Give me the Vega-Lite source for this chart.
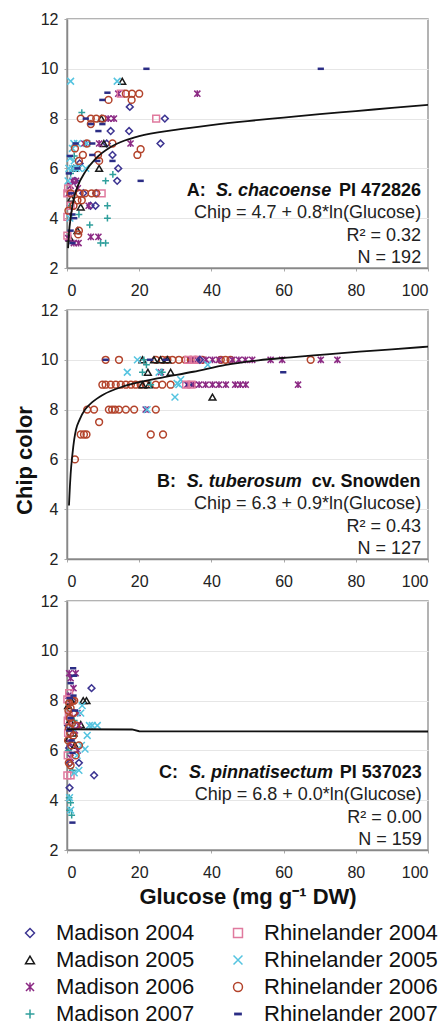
{
  "$schema": "https://vega.github.io/schema/vega-lite/v6.json",
  "background": "white",
  "padding": {"left": 12, "top": 10, "right": 0, "bottom": 0},
  "config": {
    "font": "Liberation Sans",
    "view": {"stroke": "#9a9a9a", "strokeWidth": 1.5},
    "axis": {"labelFont": "Liberation Sans", "labelFontSize": 16, "labelColor": "#222", "domainColor": "#888", "domainWidth": 1.5, "tickColor": "#aaa", "tickSize": 3, "gridColor": "#e6e6e6", "titleFont": "Liberation Sans", "titleFontSize": 22, "titleFontWeight": "bold", "titleColor": "#111"},
    "legend": {"labelFont": "Liberation Sans", "labelFontSize": 22, "labelColor": "#111", "labelLimit": 300, "symbolSize": 80, "symbolStrokeWidth": 1.5, "labelOffset": 15, "columnPadding": 32, "rowPadding": 5}
  },
  "datasets": {
    "ptsA": [
      {"series":"Madison 2004","glucose":27.1,"chip":8},{"series":"Madison 2004","glucose":17.4,"chip":8.47},{"series":"Madison 2004","glucose":17.2,"chip":7.5},{"series":"Madison 2004","glucose":12.1,"chip":7.5},{"series":"Madison 2004","glucose":25.9,"chip":7},{"series":"Madison 2004","glucose":12.6,"chip":6.54},{"series":"Madison 2004","glucose":14.2,"chip":6},{"series":"Madison 2004","glucose":13.9,"chip":5.5},{"series":"Madison 2004","glucose":8.1,"chip":5},{"series":"Madison 2004","glucose":7.9,"chip":4.5},{"series":"Madison 2004","glucose":6.5,"chip":4.5},{"series":"Madison 2004","glucose":3.5,"chip":6.2},{"series":"Madison 2004","glucose":2.2,"chip":5.5},{"series":"Madison 2004","glucose":11,"chip":7},{"series":"Madison 2004","glucose":4.5,"chip":5},
      {"series":"Madison 2005","glucose":15.3,"chip":9.5},{"series":"Madison 2005","glucose":10.2,"chip":7},{"series":"Madison 2005","glucose":8.9,"chip":6},{"series":"Madison 2005","glucose":3.8,"chip":4.45},{"series":"Madison 2005","glucose":2.9,"chip":3.5},{"series":"Madison 2005","glucose":1.9,"chip":6},{"series":"Madison 2005","glucose":1.2,"chip":4.8},{"series":"Madison 2005","glucose":9.5,"chip":8},{"series":"Madison 2005","glucose":0.8,"chip":3.2},
      {"series":"Madison 2006","glucose":36.1,"chip":9},{"series":"Madison 2006","glucose":14.2,"chip":9},{"series":"Madison 2006","glucose":13,"chip":8},{"series":"Madison 2006","glucose":11.4,"chip":8},{"series":"Madison 2006","glucose":8.9,"chip":7},{"series":"Madison 2006","glucose":17.6,"chip":7},{"series":"Madison 2006","glucose":6.6,"chip":3.25},{"series":"Madison 2006","glucose":8.7,"chip":3.25},{"series":"Madison 2006","glucose":1.9,"chip":3},{"series":"Madison 2006","glucose":0.3,"chip":3.2},{"series":"Madison 2006","glucose":1,"chip":5.3},{"series":"Madison 2006","glucose":2.5,"chip":5.5},{"series":"Madison 2006","glucose":3,"chip":5.2},{"series":"Madison 2006","glucose":1.5,"chip":5.5},{"series":"Madison 2006","glucose":4.8,"chip":7},{"series":"Madison 2006","glucose":6,"chip":4.5},{"series":"Madison 2006","glucose":0.5,"chip":5},{"series":"Madison 2006","glucose":3.2,"chip":3},
      {"series":"Madison 2007","glucose":4.1,"chip":8.24},{"series":"Madison 2007","glucose":12.7,"chip":5.76},{"series":"Madison 2007","glucose":10.7,"chip":5.5},{"series":"Madison 2007","glucose":11.2,"chip":4.5},{"series":"Madison 2007","glucose":11.2,"chip":4},{"series":"Madison 2007","glucose":6.3,"chip":3.73},{"series":"Madison 2007","glucose":9.3,"chip":3},{"series":"Madison 2007","glucose":10.7,"chip":3},{"series":"Madison 2007","glucose":1,"chip":5.8},{"series":"Madison 2007","glucose":3.3,"chip":4.15},{"series":"Madison 2007","glucose":2,"chip":6.5},{"series":"Madison 2007","glucose":0.7,"chip":4.5},
      {"series":"Rhinelander 2004","glucose":24.7,"chip":8},{"series":"Rhinelander 2004","glucose":9.6,"chip":5},{"series":"Rhinelander 2004","glucose":0.1,"chip":5},{"series":"Rhinelander 2004","glucose":0.1,"chip":4.05},{"series":"Rhinelander 2004","glucose":0.1,"chip":3.3},{"series":"Rhinelander 2004","glucose":14.9,"chip":9},{"series":"Rhinelander 2004","glucose":0.3,"chip":5.2},{"series":"Rhinelander 2004","glucose":1,"chip":4.5},
      {"series":"Rhinelander 2005","glucose":1,"chip":9.5},{"series":"Rhinelander 2005","glucose":13.9,"chip":9.5},{"series":"Rhinelander 2005","glucose":1.9,"chip":7},{"series":"Rhinelander 2005","glucose":2.9,"chip":7},{"series":"Rhinelander 2005","glucose":0.5,"chip":6},{"series":"Rhinelander 2005","glucose":1.5,"chip":6},{"series":"Rhinelander 2005","glucose":2.5,"chip":6},{"series":"Rhinelander 2005","glucose":3.3,"chip":6},{"series":"Rhinelander 2005","glucose":5.2,"chip":6},{"series":"Rhinelander 2005","glucose":0.8,"chip":6.4},{"series":"Rhinelander 2005","glucose":1.5,"chip":6.8},{"series":"Rhinelander 2005","glucose":0.3,"chip":5.5},{"series":"Rhinelander 2005","glucose":2,"chip":6.3},{"series":"Rhinelander 2005","glucose":0.8,"chip":4},{"series":"Rhinelander 2005","glucose":5.5,"chip":7},
      {"series":"Rhinelander 2006","glucose":11.5,"chip":8.75},{"series":"Rhinelander 2006","glucose":16.3,"chip":9},{"series":"Rhinelander 2006","glucose":18,"chip":9},{"series":"Rhinelander 2006","glucose":20,"chip":9},{"series":"Rhinelander 2006","glucose":17.9,"chip":8.75},{"series":"Rhinelander 2006","glucose":3.8,"chip":8},{"series":"Rhinelander 2006","glucose":6.6,"chip":8},{"series":"Rhinelander 2006","glucose":8.1,"chip":8},{"series":"Rhinelander 2006","glucose":9.8,"chip":8},{"series":"Rhinelander 2006","glucose":6.6,"chip":7.78},{"series":"Rhinelander 2006","glucose":5.5,"chip":7},{"series":"Rhinelander 2006","glucose":12.6,"chip":7},{"series":"Rhinelander 2006","glucose":20.4,"chip":6.77},{"series":"Rhinelander 2006","glucose":19.5,"chip":6.54},{"series":"Rhinelander 2006","glucose":4.4,"chip":6.54},{"series":"Rhinelander 2006","glucose":8.6,"chip":6.54},{"series":"Rhinelander 2006","glucose":3.3,"chip":6.3},{"series":"Rhinelander 2006","glucose":8.9,"chip":6.3},{"series":"Rhinelander 2006","glucose":3.5,"chip":5},{"series":"Rhinelander 2006","glucose":5,"chip":5},{"series":"Rhinelander 2006","glucose":6.8,"chip":5},{"series":"Rhinelander 2006","glucose":8.1,"chip":5},{"series":"Rhinelander 2006","glucose":2.9,"chip":4.72},{"series":"Rhinelander 2006","glucose":4.1,"chip":4.72},{"series":"Rhinelander 2006","glucose":3.3,"chip":3.5},{"series":"Rhinelander 2006","glucose":3.1,"chip":3.35},{"series":"Rhinelander 2006","glucose":0.4,"chip":4.3},{"series":"Rhinelander 2006","glucose":1.8,"chip":4.5},{"series":"Rhinelander 2006","glucose":2.2,"chip":6.8},{"series":"Rhinelander 2006","glucose":1,"chip":5},
      {"series":"Rhinelander 2007","glucose":22,"chip":10},{"series":"Rhinelander 2007","glucose":70.3,"chip":10},{"series":"Rhinelander 2007","glucose":11.2,"chip":9.04},{"series":"Rhinelander 2007","glucose":9.8,"chip":8.75},{"series":"Rhinelander 2007","glucose":5.2,"chip":8},{"series":"Rhinelander 2007","glucose":6.6,"chip":7.78},{"series":"Rhinelander 2007","glucose":9.8,"chip":7.78},{"series":"Rhinelander 2007","glucose":8.7,"chip":7.5},{"series":"Rhinelander 2007","glucose":7,"chip":6.54},{"series":"Rhinelander 2007","glucose":8.4,"chip":6.3},{"series":"Rhinelander 2007","glucose":20.4,"chip":5.5},{"series":"Rhinelander 2007","glucose":12.6,"chip":6.3},{"series":"Rhinelander 2007","glucose":2.4,"chip":7},{"series":"Rhinelander 2007","glucose":2.9,"chip":6},{"series":"Rhinelander 2007","glucose":1.5,"chip":4.15},{"series":"Rhinelander 2007","glucose":1,"chip":3.5},{"series":"Rhinelander 2007","glucose":1.5,"chip":3},{"series":"Rhinelander 2007","glucose":7,"chip":7},{"series":"Rhinelander 2007","glucose":0.8,"chip":6.5},{"series":"Rhinelander 2007","glucose":0.5,"chip":5.8},{"series":"Rhinelander 2007","glucose":1.2,"chip":5},{"series":"Rhinelander 2007","glucose":2,"chip":4}
    ],
    "ptsB": [
      {"series":"Rhinelander 2006","glucose":10.7,"chip":10},{"series":"Rhinelander 2006","glucose":14.4,"chip":10},{"series":"Rhinelander 2006","glucose":24.6,"chip":10},{"series":"Rhinelander 2006","glucose":26.4,"chip":10},{"series":"Rhinelander 2006","glucose":27.8,"chip":10},{"series":"Rhinelander 2006","glucose":29.2,"chip":10},{"series":"Rhinelander 2006","glucose":31,"chip":10},{"series":"Rhinelander 2006","glucose":32.8,"chip":10},{"series":"Rhinelander 2006","glucose":34.3,"chip":10},{"series":"Rhinelander 2006","glucose":35.6,"chip":10},{"series":"Rhinelander 2006","glucose":37.5,"chip":10},{"series":"Rhinelander 2006","glucose":42.6,"chip":10},{"series":"Rhinelander 2006","glucose":43.9,"chip":10},{"series":"Rhinelander 2006","glucose":45.3,"chip":10},{"series":"Rhinelander 2006","glucose":67.5,"chip":10},
      {"series":"Rhinelander 2006","glucose":9.8,"chip":9},{"series":"Rhinelander 2006","glucose":10.7,"chip":9},{"series":"Rhinelander 2006","glucose":12.1,"chip":9},{"series":"Rhinelander 2006","glucose":13.5,"chip":9},{"series":"Rhinelander 2006","glucose":14.9,"chip":9},{"series":"Rhinelander 2006","glucose":16.3,"chip":9},{"series":"Rhinelander 2006","glucose":17.7,"chip":9},{"series":"Rhinelander 2006","glucose":19,"chip":9},{"series":"Rhinelander 2006","glucose":20.4,"chip":9},{"series":"Rhinelander 2006","glucose":21.8,"chip":9},{"series":"Rhinelander 2006","glucose":24.6,"chip":9},{"series":"Rhinelander 2006","glucose":26.4,"chip":9},{"series":"Rhinelander 2006","glucose":28.7,"chip":9},
      {"series":"Rhinelander 2006","glucose":5.6,"chip":8},{"series":"Rhinelander 2006","glucose":7.5,"chip":8},{"series":"Rhinelander 2006","glucose":11.6,"chip":8},{"series":"Rhinelander 2006","glucose":12.5,"chip":8},{"series":"Rhinelander 2006","glucose":13.3,"chip":8},{"series":"Rhinelander 2006","glucose":14.4,"chip":8},{"series":"Rhinelander 2006","glucose":16.3,"chip":8},{"series":"Rhinelander 2006","glucose":18.6,"chip":8},{"series":"Rhinelander 2006","glucose":24.6,"chip":8},{"series":"Rhinelander 2006","glucose":8.9,"chip":7.5},{"series":"Rhinelander 2006","glucose":3.8,"chip":7},{"series":"Rhinelander 2006","glucose":4.7,"chip":7},{"series":"Rhinelander 2006","glucose":5.4,"chip":7},{"series":"Rhinelander 2006","glucose":23.2,"chip":7},{"series":"Rhinelander 2006","glucose":26.6,"chip":7},{"series":"Rhinelander 2006","glucose":2.2,"chip":6},
      {"series":"Madison 2006","glucose":34.3,"chip":10},{"series":"Madison 2006","glucose":36.1,"chip":10},{"series":"Madison 2006","glucose":38.5,"chip":10},{"series":"Madison 2006","glucose":40.3,"chip":10},{"series":"Madison 2006","glucose":42.1,"chip":10},{"series":"Madison 2006","glucose":45.8,"chip":10},{"series":"Madison 2006","glucose":47.6,"chip":10},{"series":"Madison 2006","glucose":49.4,"chip":10},{"series":"Madison 2006","glucose":51.3,"chip":10},{"series":"Madison 2006","glucose":56.4,"chip":10},{"series":"Madison 2006","glucose":59.6,"chip":10},{"series":"Madison 2006","glucose":70.3,"chip":10},{"series":"Madison 2006","glucose":74.9,"chip":10},
      {"series":"Madison 2006","glucose":33.3,"chip":9},{"series":"Madison 2006","glucose":35,"chip":9},{"series":"Madison 2006","glucose":36.6,"chip":9},{"series":"Madison 2006","glucose":38.4,"chip":9},{"series":"Madison 2006","glucose":40.3,"chip":9},{"series":"Madison 2006","glucose":42.1,"chip":9},{"series":"Madison 2006","glucose":44,"chip":9},{"series":"Madison 2006","glucose":46.6,"chip":9},{"series":"Madison 2006","glucose":48,"chip":9},{"series":"Madison 2006","glucose":49.5,"chip":9},{"series":"Madison 2006","glucose":64,"chip":9},{"series":"Madison 2006","glucose":21.8,"chip":8},{"series":"Madison 2006","glucose":26,"chip":9.5},
      {"series":"Madison 2005","glucose":24.1,"chip":10},{"series":"Madison 2005","glucose":25.9,"chip":10},{"series":"Madison 2005","glucose":27.8,"chip":10},{"series":"Madison 2005","glucose":20.9,"chip":10},{"series":"Madison 2005","glucose":22.4,"chip":9.5},{"series":"Madison 2005","glucose":28.7,"chip":9.5},{"series":"Madison 2005","glucose":20.9,"chip":9},{"series":"Madison 2005","glucose":22.7,"chip":9},{"series":"Madison 2005","glucose":40.3,"chip":8.5},
      {"series":"Rhinelander 2005","glucose":19.5,"chip":10},{"series":"Rhinelander 2005","glucose":16.7,"chip":9.5},{"series":"Rhinelander 2005","glucose":25.5,"chip":9.5},{"series":"Rhinelander 2005","glucose":31,"chip":9},{"series":"Rhinelander 2005","glucose":29.9,"chip":8.5},{"series":"Rhinelander 2005","glucose":31.5,"chip":9.2},{"series":"Rhinelander 2005","glucose":22.2,"chip":8},{"series":"Rhinelander 2005","glucose":39,"chip":9.8},{"series":"Rhinelander 2005","glucose":30.5,"chip":9.05},
      {"series":"Madison 2007","glucose":21.3,"chip":10},{"series":"Madison 2007","glucose":20.9,"chip":9.5},{"series":"Madison 2007","glucose":26.4,"chip":9.5},{"series":"Madison 2007","glucose":23.2,"chip":9},{"series":"Madison 2007","glucose":22,"chip":9.8},
      {"series":"Rhinelander 2007","glucose":10.7,"chip":10},{"series":"Rhinelander 2007","glucose":27.3,"chip":10},{"series":"Rhinelander 2007","glucose":36.6,"chip":10},{"series":"Rhinelander 2007","glucose":59.9,"chip":9.5},{"series":"Rhinelander 2007","glucose":33.8,"chip":9},{"series":"Rhinelander 2007","glucose":23,"chip":10},
      {"series":"Rhinelander 2004","glucose":33.5,"chip":10},{"series":"Rhinelander 2004","glucose":35,"chip":10},{"series":"Rhinelander 2004","glucose":36.2,"chip":10},{"series":"Rhinelander 2004","glucose":33,"chip":9},{"series":"Rhinelander 2004","glucose":34.5,"chip":9},
      {"series":"Madison 2004","glucose":36.8,"chip":10}
    ],
    "ptsC": [
      {"series":"Madison 2004","glucose":6.8,"chip":8.5},{"series":"Madison 2004","glucose":7.5,"chip":5},{"series":"Madison 2004","glucose":3.3,"chip":5.5},{"series":"Madison 2004","glucose":0.7,"chip":4.5},{"series":"Madison 2004","glucose":0.6,"chip":6.1},{"series":"Madison 2004","glucose":0.3,"chip":7},{"series":"Madison 2004","glucose":1.5,"chip":8},{"series":"Madison 2004","glucose":0.8,"chip":5.5},
      {"series":"Madison 2005","glucose":5.4,"chip":8},{"series":"Madison 2005","glucose":3.8,"chip":7.04},{"series":"Madison 2005","glucose":2.2,"chip":6.2},{"series":"Madison 2005","glucose":0.8,"chip":7.2},{"series":"Madison 2005","glucose":0.3,"chip":7.8},{"series":"Madison 2005","glucose":1.8,"chip":6.7},{"series":"Madison 2005","glucose":4.5,"chip":8},{"series":"Madison 2005","glucose":0.5,"chip":6.5},{"series":"Madison 2005","glucose":1.2,"chip":8},
      {"series":"Madison 2006","glucose":0.6,"chip":9.1},{"series":"Madison 2006","glucose":2.4,"chip":9.1},{"series":"Madison 2006","glucose":1,"chip":8.9},{"series":"Madison 2006","glucose":2.9,"chip":7.5},{"series":"Madison 2006","glucose":3.3,"chip":7},{"series":"Madison 2006","glucose":1,"chip":5.7},{"series":"Madison 2006","glucose":1.8,"chip":8.5},{"series":"Madison 2006","glucose":0.4,"chip":8.2},{"series":"Madison 2006","glucose":2.2,"chip":6.8},{"series":"Madison 2006","glucose":1.5,"chip":7.3},{"series":"Madison 2006","glucose":0.8,"chip":6.3},{"series":"Madison 2006","glucose":3,"chip":6},
      {"series":"Madison 2007","glucose":0.6,"chip":4.1},{"series":"Madison 2007","glucose":0.7,"chip":3.6},{"series":"Madison 2007","glucose":1.3,"chip":3.4},{"series":"Madison 2007","glucose":1,"chip":3.9},{"series":"Madison 2007","glucose":2,"chip":7.2},{"series":"Madison 2007","glucose":0.4,"chip":6},{"series":"Madison 2007","glucose":1.5,"chip":5.2},
      {"series":"Rhinelander 2004","glucose":0.1,"chip":8.05},{"series":"Rhinelander 2004","glucose":0.1,"chip":5},{"series":"Rhinelander 2004","glucose":0.5,"chip":7.4},{"series":"Rhinelander 2004","glucose":0.3,"chip":6.7},{"series":"Rhinelander 2004","glucose":0.2,"chip":5.8},{"series":"Rhinelander 2004","glucose":1,"chip":5},{"series":"Rhinelander 2004","glucose":0.6,"chip":8.3},{"series":"Rhinelander 2004","glucose":0.2,"chip":7.2},
      {"series":"Rhinelander 2005","glucose":8.4,"chip":7},{"series":"Rhinelander 2005","glucose":7,"chip":7},{"series":"Rhinelander 2005","glucose":5.6,"chip":6.6},{"series":"Rhinelander 2005","glucose":5,"chip":6.05},{"series":"Rhinelander 2005","glucose":3.8,"chip":7.5},{"series":"Rhinelander 2005","glucose":3.3,"chip":5.2},{"series":"Rhinelander 2005","glucose":0.7,"chip":4.1},{"series":"Rhinelander 2005","glucose":1,"chip":3.6},{"series":"Rhinelander 2005","glucose":2,"chip":5.1},{"series":"Rhinelander 2005","glucose":4.2,"chip":7.8},{"series":"Rhinelander 2005","glucose":2.8,"chip":5.8},{"series":"Rhinelander 2005","glucose":6.2,"chip":7},{"series":"Rhinelander 2005","glucose":4,"chip":6.2},{"series":"Rhinelander 2005","glucose":1.5,"chip":6.9},
      {"series":"Rhinelander 2006","glucose":0.6,"chip":7.9},{"series":"Rhinelander 2006","glucose":1,"chip":7.7},{"series":"Rhinelander 2006","glucose":1.8,"chip":7.5},{"series":"Rhinelander 2006","glucose":0.5,"chip":6.9},{"series":"Rhinelander 2006","glucose":1.8,"chip":6.6},{"series":"Rhinelander 2006","glucose":3.3,"chip":6.2},{"series":"Rhinelander 2006","glucose":2.4,"chip":5.8},{"series":"Rhinelander 2006","glucose":1,"chip":5.4},{"series":"Rhinelander 2006","glucose":0.3,"chip":6.4},{"series":"Rhinelander 2006","glucose":1.5,"chip":8},{"series":"Rhinelander 2006","glucose":0.8,"chip":7.3},{"series":"Rhinelander 2006","glucose":2.5,"chip":7},{"series":"Rhinelander 2006","glucose":1.2,"chip":6.2},{"series":"Rhinelander 2006","glucose":0.5,"chip":5.5},{"series":"Rhinelander 2006","glucose":2,"chip":8},{"series":"Rhinelander 2006","glucose":1.4,"chip":7.1},{"series":"Rhinelander 2006","glucose":0.9,"chip":6.7},{"series":"Rhinelander 2006","glucose":0.4,"chip":7.6},
      {"series":"Rhinelander 2007","glucose":1.7,"chip":9.3},{"series":"Rhinelander 2007","glucose":1.5,"chip":3.1},{"series":"Rhinelander 2007","glucose":1,"chip":8.7},{"series":"Rhinelander 2007","glucose":1.8,"chip":8.2},{"series":"Rhinelander 2007","glucose":1,"chip":7.3},{"series":"Rhinelander 2007","glucose":1.3,"chip":6.4},{"series":"Rhinelander 2007","glucose":2.2,"chip":7.6},{"series":"Rhinelander 2007","glucose":0.8,"chip":8.1},{"series":"Rhinelander 2007","glucose":1.5,"chip":5.9},{"series":"Rhinelander 2007","glucose":0.6,"chip":6.8},{"series":"Rhinelander 2007","glucose":2,"chip":9}
    ],
    "fit": [
      {"panel":"A","glucose":0.3,"chip":2.8},{"panel":"A","glucose":0.55,"chip":3.4},{"panel":"A","glucose":1,"chip":4.0},{"panel":"A","glucose":1.5,"chip":4.5},{"panel":"A","glucose":2,"chip":4.85},{"panel":"A","glucose":3,"chip":5.3},{"panel":"A","glucose":5,"chip":5.85},{"panel":"A","glucose":8,"chip":6.4},{"panel":"A","glucose":12,"chip":6.85},{"panel":"A","glucose":16,"chip":7.12},{"panel":"A","glucose":20,"chip":7.3},{"panel":"A","glucose":30,"chip":7.55},{"panel":"A","glucose":40,"chip":7.74},{"panel":"A","glucose":50,"chip":7.9},{"panel":"A","glucose":60,"chip":8.04},{"panel":"A","glucose":70,"chip":8.18},{"panel":"A","glucose":80,"chip":8.3},{"panel":"A","glucose":90,"chip":8.43},{"panel":"A","glucose":100,"chip":8.55},
      {"panel":"B","glucose":0.55,"chip":4.15},{"panel":"B","glucose":0.8,"chip":4.9},{"panel":"B","glucose":1,"chip":5.4},{"panel":"B","glucose":1.5,"chip":6.2},{"panel":"B","glucose":2,"chip":6.8},{"panel":"B","glucose":2.5,"chip":7.2},{"panel":"B","glucose":3.5,"chip":7.6},{"panel":"B","glucose":5,"chip":8.0},{"panel":"B","glucose":7,"chip":8.3},{"panel":"B","glucose":10,"chip":8.6},{"panel":"B","glucose":16,"chip":8.95},{"panel":"B","glucose":25,"chip":9.25},{"panel":"B","glucose":35,"chip":9.52},{"panel":"B","glucose":44,"chip":9.8},{"panel":"B","glucose":53,"chip":9.98},{"panel":"B","glucose":62,"chip":10.1},{"panel":"B","glucose":72,"chip":10.22},{"panel":"B","glucose":81,"chip":10.33},{"panel":"B","glucose":90,"chip":10.42},{"panel":"B","glucose":100,"chip":10.53},
      {"panel":"C","glucose":0.05,"chip":6.85},{"panel":"C","glucose":18,"chip":6.84},{"panel":"C","glucose":20,"chip":6.77},{"panel":"C","glucose":100,"chip":6.76}
    ],
    "notes": [
      {"panel":"A","role":"label","x":33.2,"y":5.1,"text":"A:"},{"panel":"A","role":"species","x":41.3,"y":5.1,"text":"S. chacoense"},{"panel":"A","role":"tail","x":98.1,"y":5.1,"text":"PI 472826"},{"panel":"A","role":"body","x":98.1,"y":4.2,"text":"Chip = 4.7 + 0.8*ln(Glucose)"},{"panel":"A","role":"body","x":98.1,"y":3.3,"text":"R² = 0.32"},{"panel":"A","role":"body","x":98.1,"y":2.4,"text":"N = 192"},
      {"panel":"B","role":"label","x":24.9,"y":5.1,"text":"B:"},{"panel":"B","role":"species","x":33.2,"y":5.1,"text":"S. tuberosum"},{"panel":"B","role":"tail","x":97.9,"y":5.1,"text":"cv. Snowden"},{"panel":"B","role":"body","x":98.1,"y":4.2,"text":"Chip = 6.3 + 0.9*ln(Glucose)"},{"panel":"B","role":"body","x":98.1,"y":3.3,"text":"R² = 0.43"},{"panel":"B","role":"body","x":98.1,"y":2.4,"text":"N = 127"},
      {"panel":"C","role":"label","x":25.5,"y":5.1,"text":"C:"},{"panel":"C","role":"species","x":33.8,"y":5.1,"text":"S. pinnatisectum"},{"panel":"C","role":"tail","x":98.3,"y":5.1,"text":"PI 537023"},{"panel":"C","role":"body","x":98.3,"y":4.2,"text":"Chip = 6.8 + 0.0*ln(Glucose)"},{"panel":"C","role":"body","x":98.3,"y":3.3,"text":"R² = 0.00"},{"panel":"C","role":"body","x":98.3,"y":2.4,"text":"N = 159"}
    ]
  },
  "spacing": 42,
  "bounds": "flush",
  "resolve": {"scale": {"color": "shared", "shape": "shared"}, "legend": {"color": "shared", "shape": "shared"}},
  "vconcat": [
    {
      "width": 361, "height": 249,
      "layer": [
        {
          "data": {"name": "ptsA"},
          "mark": {"type": "point", "filled": false, "size": 46, "strokeWidth": 1.5, "opacity": 1},
          "encoding": {
            "x": {"field": "glucose", "type": "quantitative", "scale": {"domain": [0, 100], "nice": false, "zero": false}, "axis": {"values": [0, 20, 40, 60, 80, 100], "grid": false, "title": null, "labelPadding": 11}},
            "y": {"field": "chip", "type": "quantitative", "scale": {"domain": [2, 12], "nice": false, "zero": false}, "axis": {"values": [2, 4, 6, 8, 10, 12], "grid": true, "title": null, "labelPadding": 6}},
            "color": {"field": "series", "type": "nominal", "scale": {"domain": ["Madison 2004", "Madison 2005", "Madison 2006", "Madison 2007", "Rhinelander 2004", "Rhinelander 2005", "Rhinelander 2006", "Rhinelander 2007"], "range": ["#3d3592", "#1a1a1a", "#8c2a84", "#2f9f9c", "#e07a9e", "#55c4e0", "#b3432b", "#2b2d85"]}, "legend": {"title": null, "orient": "none", "legendX": -48, "legendY": 903, "columns": 2}},
            "shape": {"field": "series", "type": "nominal", "scale": {"domain": ["Madison 2004", "Madison 2005", "Madison 2006", "Madison 2007", "Rhinelander 2004", "Rhinelander 2005", "Rhinelander 2006", "Rhinelander 2007"], "range": ["diamond", "triangle-up", "M-0.9,-0.9L0.9,0.9M-0.9,0.9L0.9,-0.9M0,-1V1", "M-1,0H1M0,-1V1", "square", "M-1,-1L1,1M-1,1L1,-1", "circle", "M-0.7,-0.15H0.7V0.15H-0.7Z"]}, "legend": {"title": null, "orient": "none", "legendX": -48, "legendY": 903, "columns": 2}}
          }
        },
        {"data": {"name": "fit"}, "transform": [{"filter": "datum.panel == 'A'"}], "mark": {"type": "line", "color": "#111", "strokeWidth": 1.8, "interpolate": "monotone"}, "encoding": {"x": {"field": "glucose", "type": "quantitative"}, "y": {"field": "chip", "type": "quantitative"}}},
        {"data": {"name": "notes"}, "transform": [{"filter": "datum.panel == 'A' && datum.role == 'label'"}], "mark": {"type": "text", "font": "Liberation Sans", "fontSize": 18, "fontWeight": "bold", "align": "left", "baseline": "middle", "color": "#111"}, "encoding": {"x": {"field": "x", "type": "quantitative"}, "y": {"field": "y", "type": "quantitative"}, "text": {"field": "text"}}},
        {"data": {"name": "notes"}, "transform": [{"filter": "datum.panel == 'A' && datum.role == 'species'"}], "mark": {"type": "text", "font": "Liberation Sans", "fontSize": 18, "fontWeight": "bold", "fontStyle": "italic", "align": "left", "baseline": "middle", "color": "#111"}, "encoding": {"x": {"field": "x", "type": "quantitative"}, "y": {"field": "y", "type": "quantitative"}, "text": {"field": "text"}}},
        {"data": {"name": "notes"}, "transform": [{"filter": "datum.panel == 'A' && datum.role == 'tail'"}], "mark": {"type": "text", "font": "Liberation Sans", "fontSize": 18, "fontWeight": "bold", "align": "right", "baseline": "middle", "color": "#111"}, "encoding": {"x": {"field": "x", "type": "quantitative"}, "y": {"field": "y", "type": "quantitative"}, "text": {"field": "text"}}},
        {"data": {"name": "notes"}, "transform": [{"filter": "datum.panel == 'A' && datum.role == 'body'"}], "mark": {"type": "text", "font": "Liberation Sans", "fontSize": 18, "align": "right", "baseline": "middle", "color": "#222"}, "encoding": {"x": {"field": "x", "type": "quantitative"}, "y": {"field": "y", "type": "quantitative"}, "text": {"field": "text"}}}
      ]
    },
    {
      "width": 361, "height": 249,
      "layer": [
        {
          "data": {"name": "ptsB"},
          "mark": {"type": "point", "filled": false, "size": 46, "strokeWidth": 1.5, "opacity": 1},
          "encoding": {
            "x": {"field": "glucose", "type": "quantitative", "scale": {"domain": [0, 100], "nice": false, "zero": false}, "axis": {"values": [0, 20, 40, 60, 80, 100], "grid": false, "title": null, "labelPadding": 11}},
            "y": {"field": "chip", "type": "quantitative", "scale": {"domain": [2, 12], "nice": false, "zero": false}, "axis": {"values": [2, 4, 6, 8, 10, 12], "grid": true, "title": "Chip color", "titlePadding": 4, "titleY": 150, "labelPadding": 6}},
            "color": {"field": "series", "type": "nominal", "scale": {"domain": ["Madison 2004", "Madison 2005", "Madison 2006", "Madison 2007", "Rhinelander 2004", "Rhinelander 2005", "Rhinelander 2006", "Rhinelander 2007"], "range": ["#3d3592", "#1a1a1a", "#8c2a84", "#2f9f9c", "#e07a9e", "#55c4e0", "#b3432b", "#2b2d85"]}, "legend": {"title": null, "orient": "none", "legendX": -48, "legendY": 903, "columns": 2}},
            "shape": {"field": "series", "type": "nominal", "scale": {"domain": ["Madison 2004", "Madison 2005", "Madison 2006", "Madison 2007", "Rhinelander 2004", "Rhinelander 2005", "Rhinelander 2006", "Rhinelander 2007"], "range": ["diamond", "triangle-up", "M-0.9,-0.9L0.9,0.9M-0.9,0.9L0.9,-0.9M0,-1V1", "M-1,0H1M0,-1V1", "square", "M-1,-1L1,1M-1,1L1,-1", "circle", "M-0.7,-0.15H0.7V0.15H-0.7Z"]}, "legend": {"title": null, "orient": "none", "legendX": -48, "legendY": 903, "columns": 2}}
          }
        },
        {"data": {"name": "fit"}, "transform": [{"filter": "datum.panel == 'B'"}], "mark": {"type": "line", "color": "#111", "strokeWidth": 1.8, "interpolate": "monotone"}, "encoding": {"x": {"field": "glucose", "type": "quantitative"}, "y": {"field": "chip", "type": "quantitative"}}},
        {"data": {"name": "notes"}, "transform": [{"filter": "datum.panel == 'B' && datum.role == 'label'"}], "mark": {"type": "text", "font": "Liberation Sans", "fontSize": 18, "fontWeight": "bold", "align": "left", "baseline": "middle", "color": "#111"}, "encoding": {"x": {"field": "x", "type": "quantitative"}, "y": {"field": "y", "type": "quantitative"}, "text": {"field": "text"}}},
        {"data": {"name": "notes"}, "transform": [{"filter": "datum.panel == 'B' && datum.role == 'species'"}], "mark": {"type": "text", "font": "Liberation Sans", "fontSize": 18, "fontWeight": "bold", "fontStyle": "italic", "align": "left", "baseline": "middle", "color": "#111"}, "encoding": {"x": {"field": "x", "type": "quantitative"}, "y": {"field": "y", "type": "quantitative"}, "text": {"field": "text"}}},
        {"data": {"name": "notes"}, "transform": [{"filter": "datum.panel == 'B' && datum.role == 'tail'"}], "mark": {"type": "text", "font": "Liberation Sans", "fontSize": 18, "fontWeight": "bold", "align": "right", "baseline": "middle", "color": "#111"}, "encoding": {"x": {"field": "x", "type": "quantitative"}, "y": {"field": "y", "type": "quantitative"}, "text": {"field": "text"}}},
        {"data": {"name": "notes"}, "transform": [{"filter": "datum.panel == 'B' && datum.role == 'body'"}], "mark": {"type": "text", "font": "Liberation Sans", "fontSize": 18, "align": "right", "baseline": "middle", "color": "#222"}, "encoding": {"x": {"field": "x", "type": "quantitative"}, "y": {"field": "y", "type": "quantitative"}, "text": {"field": "text"}}}
      ]
    },
    {
      "width": 361, "height": 249,
      "layer": [
        {
          "data": {"name": "ptsC"},
          "mark": {"type": "point", "filled": false, "size": 46, "strokeWidth": 1.5, "opacity": 1},
          "encoding": {
            "x": {"field": "glucose", "type": "quantitative", "scale": {"domain": [0, 100], "nice": false, "zero": false}, "axis": {"values": [0, 20, 40, 60, 80, 100], "grid": false, "title": "Glucose (mg g⁻¹ DW)", "titlePadding": 6, "labelPadding": 11}},
            "y": {"field": "chip", "type": "quantitative", "scale": {"domain": [2, 12], "nice": false, "zero": false}, "axis": {"values": [2, 4, 6, 8, 10, 12], "grid": true, "title": null, "labelPadding": 6}},
            "color": {"field": "series", "type": "nominal", "scale": {"domain": ["Madison 2004", "Madison 2005", "Madison 2006", "Madison 2007", "Rhinelander 2004", "Rhinelander 2005", "Rhinelander 2006", "Rhinelander 2007"], "range": ["#3d3592", "#1a1a1a", "#8c2a84", "#2f9f9c", "#e07a9e", "#55c4e0", "#b3432b", "#2b2d85"]}, "legend": {"title": null, "orient": "none", "legendX": -48, "legendY": 903, "columns": 2}},
            "shape": {"field": "series", "type": "nominal", "scale": {"domain": ["Madison 2004", "Madison 2005", "Madison 2006", "Madison 2007", "Rhinelander 2004", "Rhinelander 2005", "Rhinelander 2006", "Rhinelander 2007"], "range": ["diamond", "triangle-up", "M-0.9,-0.9L0.9,0.9M-0.9,0.9L0.9,-0.9M0,-1V1", "M-1,0H1M0,-1V1", "square", "M-1,-1L1,1M-1,1L1,-1", "circle", "M-0.7,-0.15H0.7V0.15H-0.7Z"]}, "legend": {"title": null, "orient": "none", "legendX": -48, "legendY": 903, "columns": 2}}
          }
        },
        {"data": {"name": "fit"}, "transform": [{"filter": "datum.panel == 'C'"}], "mark": {"type": "line", "color": "#111", "strokeWidth": 1.8, "interpolate": "linear"}, "encoding": {"x": {"field": "glucose", "type": "quantitative"}, "y": {"field": "chip", "type": "quantitative"}}},
        {"data": {"name": "notes"}, "transform": [{"filter": "datum.panel == 'C' && datum.role == 'label'"}], "mark": {"type": "text", "font": "Liberation Sans", "fontSize": 18, "fontWeight": "bold", "align": "left", "baseline": "middle", "color": "#111"}, "encoding": {"x": {"field": "x", "type": "quantitative"}, "y": {"field": "y", "type": "quantitative"}, "text": {"field": "text"}}},
        {"data": {"name": "notes"}, "transform": [{"filter": "datum.panel == 'C' && datum.role == 'species'"}], "mark": {"type": "text", "font": "Liberation Sans", "fontSize": 18, "fontWeight": "bold", "fontStyle": "italic", "align": "left", "baseline": "middle", "color": "#111"}, "encoding": {"x": {"field": "x", "type": "quantitative"}, "y": {"field": "y", "type": "quantitative"}, "text": {"field": "text"}}},
        {"data": {"name": "notes"}, "transform": [{"filter": "datum.panel == 'C' && datum.role == 'tail'"}], "mark": {"type": "text", "font": "Liberation Sans", "fontSize": 18, "fontWeight": "bold", "align": "right", "baseline": "middle", "color": "#111"}, "encoding": {"x": {"field": "x", "type": "quantitative"}, "y": {"field": "y", "type": "quantitative"}, "text": {"field": "text"}}},
        {"data": {"name": "notes"}, "transform": [{"filter": "datum.panel == 'C' && datum.role == 'body'"}], "mark": {"type": "text", "font": "Liberation Sans", "fontSize": 18, "align": "right", "baseline": "middle", "color": "#222"}, "encoding": {"x": {"field": "x", "type": "quantitative"}, "y": {"field": "y", "type": "quantitative"}, "text": {"field": "text"}}}
      ]
    }
  ]
}
